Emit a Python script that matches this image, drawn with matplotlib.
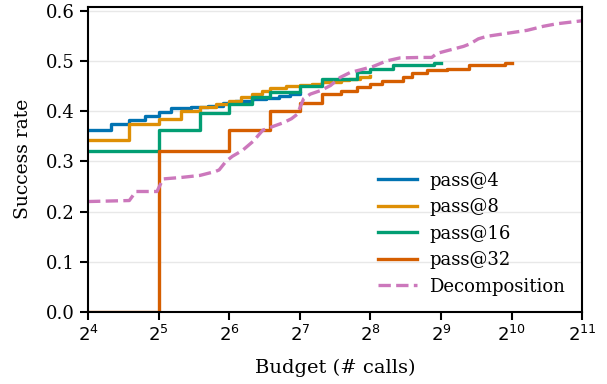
import matplotlib
matplotlib.use("Agg")
import matplotlib.pyplot as plt
from matplotlib.ticker import FixedLocator, FixedFormatter, NullLocator

# Data
p4_x = [16, 20, 24, 28, 32, 36, 44, 52, 60, 68, 80, 92, 104, 116, 128]
p4_y = [0.362, 0.375, 0.383, 0.390, 0.398, 0.406, 0.408, 0.411, 0.416, 0.420,
        0.424, 0.427, 0.430, 0.434, 0.437]

p8_x = [16, 24, 32, 40, 48, 56, 64, 72, 80, 88, 96, 112, 128, 144, 160, 192,
        208, 232, 256]
p8_y = [0.342, 0.375, 0.385, 0.400, 0.409, 0.414, 0.420, 0.429, 0.435, 0.441,
        0.447, 0.451, 0.453, 0.455, 0.459, 0.462, 0.464, 0.469, 0.470]

p16_x = [16, 32, 48, 64, 80, 96, 128, 160, 224, 256, 320, 480, 512]
p16_y = [0.320, 0.363, 0.397, 0.414, 0.428, 0.438, 0.451, 0.464, 0.477, 0.484,
         0.491, 0.495, 0.495]

p32_x = [16, 32, 64, 96, 128, 160, 192, 224, 256, 288, 352, 384, 448, 544,
         672, 960, 1024]
p32_y = [0.0, 0.320, 0.363, 0.400, 0.416, 0.434, 0.440, 0.449, 0.455, 0.461,
         0.469, 0.475, 0.481, 0.484, 0.491, 0.495, 0.495]

dec_x = [16, 24, 25.6, 31.5, 33.4, 40, 48, 56, 58, 62, 66, 73, 81, 89, 99, 109,
         118, 125, 133, 142, 157, 173, 190, 210, 231, 263, 300, 342, 416, 468,
         492, 560, 639, 681, 739, 803, 917, 1194, 1399, 1595, 2048]
dec_y = [0.220, 0.222, 0.240, 0.240, 0.265, 0.268, 0.272, 0.280, 0.283, 0.300,
         0.310, 0.322, 0.340, 0.362, 0.370, 0.377, 0.385, 0.394, 0.425, 0.434,
         0.441, 0.451, 0.467, 0.477, 0.482, 0.489, 0.500, 0.506, 0.507, 0.507,
         0.515, 0.522, 0.529, 0.534, 0.544, 0.549, 0.553, 0.561, 0.569, 0.574,
         0.580]

x_ticks = [2 ** k for k in range(4, 12)]
x_ticklabels = [r"$2^{%d}$" % k for k in range(4, 12)]
y_ticks = [0.0, 0.1, 0.2, 0.3, 0.4, 0.5, 0.6]

colors = ["#0173B2", "#DE8F05", "#029E73", "#D55E00", "#CC78BC"]

plt.rcParams["font.family"] = ["DejaVu Serif"]
plt.rcParams["mathtext.fontset"] = "dejavusans"

fig = plt.figure(figsize=(6.07, 3.84), dpi=100)
ax = fig.add_axes([0.145, 0.1875, 0.814, 0.795])

lw = 2.4
ax.plot(p4_x, p4_y, drawstyle="steps-post", color=colors[0], lw=lw, label="pass@4")
ax.plot(p8_x, p8_y, drawstyle="steps-post", color=colors[1], lw=lw, label="pass@8")
ax.plot(p16_x, p16_y, drawstyle="steps-post", color=colors[2], lw=lw, label="pass@16")
ax.plot(p32_x, p32_y, drawstyle="steps-post", color=colors[3], lw=lw, label="pass@32")
ax.plot(dec_x, dec_y, color=colors[4], lw=lw, ls="--", label="Decomposition")

ax.set_xscale("log", base=2)
ax.set_xlim(16, 2048)
ax.set_ylim(0, 0.608)
ax.xaxis.set_major_locator(FixedLocator(x_ticks))
ax.xaxis.set_major_formatter(FixedFormatter(x_ticklabels))
ax.xaxis.set_minor_locator(NullLocator())
ax.set_yticks(y_ticks)
ax.set_yticklabels(["%.1f" % v for v in y_ticks])

ax.yaxis.grid(True, color="#e8e8e8", lw=1.0)
ax.set_axisbelow(True)
for s in ax.spines.values():
    s.set_linewidth(1.5)
    s.set_color("black")
ax.tick_params(axis="both", length=6, width=1.5, labelsize=13, direction="out")
ax.tick_params(axis="x", pad=3)

ax.set_xlabel("Budget (# calls)", fontsize=14, labelpad=10)
ax.set_ylabel("Success rate", fontsize=13.5, labelpad=10)

leg = ax.legend(loc="lower right", frameon=False, fontsize=13,
                handlelength=2.2, handletextpad=0.65, labelspacing=0.47,
                bbox_to_anchor=(0.998, 0.0))

fig.savefig("out.png", dpi=100)
